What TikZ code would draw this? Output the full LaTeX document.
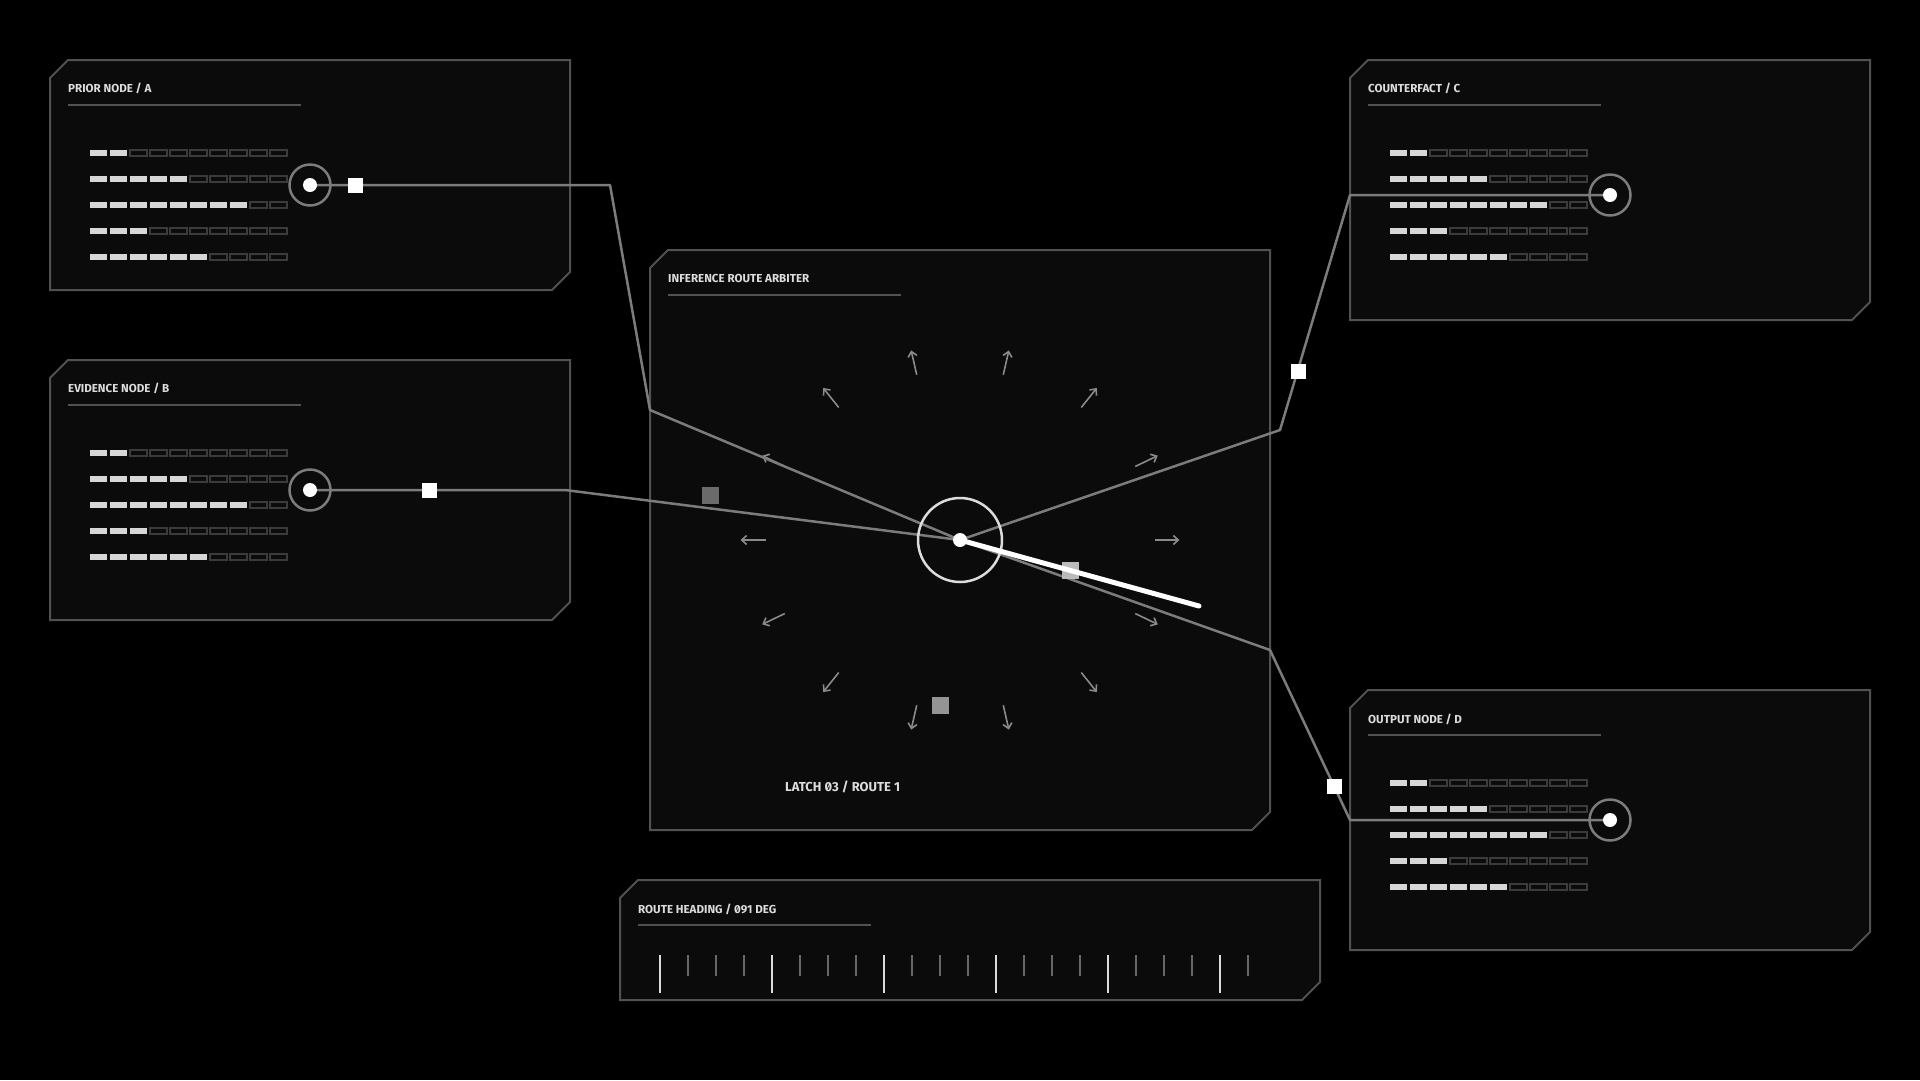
\documentclass[tikz,border=0pt]{standalone}
\usepackage{fontspec}
\setmainfont{Fira Sans}[Numbers=SlashedZero]
\usetikzlibrary{arrows.meta}

\definecolor{hudfill}{HTML}{0A0B0A}
\definecolor{hudedge}{HTML}{505250}
\definecolor{hudlink}{HTML}{7C7C7C}
\definecolor{hudtext}{HTML}{DCDCDC}
\definecolor{hudbar}{HTML}{D6D7D6}
\definecolor{hudslot}{HTML}{3A3B3A}
\definecolor{hudray}{HTML}{8A8A8A}

\begin{document}
\begin{tikzpicture}[x=1pt,y=-1pt,
    panel/.style={fill=hudfill, draw=hudedge, line width=2pt},
    rule/.style={draw=hudedge, line width=2pt},
    title/.style={anchor=west, inner sep=0pt, text=hudtext, font=\bfseries\fontsize{11.6}{13}\selectfont},
    fullbar/.style={fill=hudbar},
    emptybar/.style={draw=hudslot, line width=1.4pt},
    link/.style={draw=hudlink, line width=2.5pt, line join=round},
    port/.style={circle, draw=hudlink, line width=2.5pt, minimum size=41pt, inner sep=0pt},
    latch/.style={fill=white, minimum size=15pt, inner sep=0pt},
    probe/.style={minimum size=17pt, inner sep=0pt},
    ray/.style={draw=hudray, line width=1.6pt, -{Straight Barb[length=5pt,width=9pt]}}]
        \useasboundingbox (0,0) rectangle (1920,1080);
        \fill[black] (0,0) rectangle (1920,1080);

        % panels
        \draw[panel] (50,78) -- (68,60) -- (570,60) -- (570,272) -- (552,290) -- (50,290) -- cycle;
        \draw[panel] (50,378) -- (68,360) -- (570,360) -- (570,602) -- (552,620) -- (50,620) -- cycle;
        \draw[panel] (1350,78) -- (1368,60) -- (1870,60) -- (1870,302) -- (1852,320) -- (1350,320) -- cycle;
        \draw[panel] (1350,708) -- (1368,690) -- (1870,690) -- (1870,932) -- (1852,950) -- (1350,950) -- cycle;
        \draw[panel] (650,268) -- (668,250) -- (1270,250) -- (1270,812) -- (1252,830) -- (650,830) -- cycle;
        \draw[panel] (620,898) -- (638,880) -- (1320,880) -- (1320,982) -- (1302,1000) -- (620,1000) -- cycle;

        % titles
        \node[title] (titleA) at (68,88) {PRIOR NODE / A};
        \node[title] (titleB) at (68,388) {EVIDENCE NODE / B};
        \node[title] (titleC) at (1368,88) {COUNTERFACT / C};
        \node[title] (titleD) at (1368,719) {OUTPUT NODE / D};
        \node[title] (titleM) at (668,278) {INFERENCE ROUTE ARBITER};
        \node[title] (titleH) at (638,909) {ROUTE HEADING / 091 DEG};
        \node[title, font=\bfseries\fontsize{13}{15}\selectfont] (latchtext) at (785,787) {LATCH 03 / ROUTE 1};
        \draw[rule] (68,105) -- (301,105);
        \draw[rule] (68,405) -- (301,405);
        \draw[rule] (1368,105) -- (1601,105);
        \draw[rule] (1368,735) -- (1601,735);
        \draw[rule] (668,295) -- (901,295);
        \draw[rule] (638,925) -- (871,925);

        % level bars
        \foreach \px/\py in {50/60, 50/360, 1350/60, 1350/690} {
            \foreach \row/\n in {0/2, 1/5, 2/8, 3/3, 4/6} {
                \foreach \i in {1,...,\n}
                    \fill[fullbar] ({\px+40+20*(\i-1)}, {\py+90+26*\row}) rectangle ++(17,6);
                \foreach \i in {\n,...,9}
                    \draw[emptybar] ({\px+40+20*\i}, {\py+90+26*\row}) rectangle ++(17,6);
            }
        }

        % heading ticks
        \foreach \i in {0,...,21}
            \draw[draw=hudray!130, line width=1.5pt] ({660+28*\i},955) -- ({660+28*\i},976);
        \foreach \i in {0,4,...,20}
            \draw[draw=hudtext, line width=2pt] ({660+28*\i},955) -- ({660+28*\i},993);

        % ring of rays
        \coordinate (hub) at (960,540);
        \foreach \k in {0,...,13} {
            \pgfmathsetmacro{\t}{\k*360/14}
            \draw[ray, shift={(hub)}] ({194.5*cos(\t)}, {-169.5*sin(\t)}) -- ({219.5*cos(\t)}, {-194.5*sin(\t)});
        }

        % connectors
        \node[port] (portA) at (310,185) {};
        \node[port] (portB) at (310,490) {};
        \node[port] (portC) at (1610,195) {};
        \node[port] (portD) at (1610,820) {};
        \coordinate (kinkA1) at (610,185);
        \coordinate (kinkA2) at (650,410);
        \coordinate (kinkB) at (565,490);
        \coordinate (kinkC1) at (1350,195);
        \coordinate (kinkC2) at (1280,430);
        \coordinate (kinkD1) at (1350,820);
        \coordinate (kinkD2) at (1270,650);
        \draw[link] (portA.center) -- (kinkA1) -- (kinkA2) -- (hub);
        \draw[link] (portB.center) -- (kinkB) -- (hub);
        \draw[link] (portC.center) -- (kinkC1) -- (kinkC2) -- (hub);
        \draw[link] (portD.center) -- (kinkD1) -- (kinkD2) -- (hub);
        \foreach \p in {portA, portB, portC, portD}
            \fill[white] (\p) circle[radius=7pt];
        \node[latch] (latchA) at (355,185) {};
        \node[latch] (latchB) at (429,490) {};
        \node[latch] (latchC) at (1298,371) {};
        \node[latch] (latchD) at (1334,786) {};

        % probes and heading needle
        \node[probe, fill=black!58] (probeW) at (710,495) {};
        \node[probe, fill=black!27] (probeE) at (1070,570) {};
        \node[probe, fill=black!42] (probeS) at (940,705) {};
        \coordinate (tip) at (1199,606);
        \draw[hudtext, line width=2.5pt] (hub) circle[radius=42pt];
        \draw[white, line width=5pt, line cap=round] (hub) -- (tip);
        \fill[white] (hub) circle[radius=7pt];
\end{tikzpicture}
\end{document}
